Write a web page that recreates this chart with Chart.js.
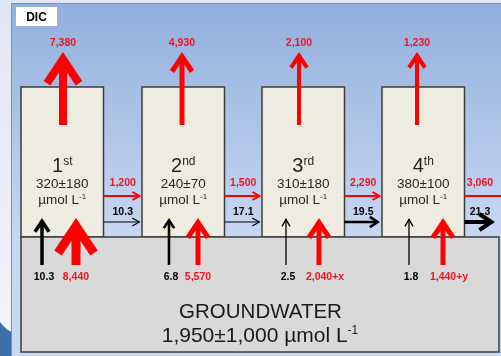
<!DOCTYPE html>
<html>
<head>
<meta charset="utf-8">
<script src="https://cdn.jsdelivr.net/npm/chart.js@4"></script>
<style>
  html, body { margin: 0; padding: 0; background: #fff; }
  canvas { display: block; }
</style>
</head>
<body>
<canvas id="dic-flux" width="501" height="356"></canvas>
<script>
// values
const cells = ['1', '2', '3', '4'];
const cellSuffix = ['st', 'nd', 'rd', 'th'];
const cellConc = ['320±180', '240±70', '310±180', '380±100'];
const outgassing = [7380, 4930, 2100, 1230];
const downstreamDIC = [1200, 1500, 2290, 3060];
const downstreamWater = [10.3, 17.1, 19.5, 21.3];
const gwWater = [10.3, 6.8, 2.5, 1.8];
const gwDIC = [8440, 5570, 2040, 1440];
const gwDICExtra = ['', '', '+x', '+y'];
const gwConc = '1,950±1,000';

const fmt = v => v.toLocaleString('en-US');
const RED = '#ff0000';
const RED_TXT = '#f0141e';
const FONT = '"Liberation Sans", Arial, sans-serif';

// layout (pixels == axis units)
const boxLeft = [21, 142, 262, 382];
const boxW = 82.5;
const boxTop = 87, gwTop = 237, gwBottom = 352, gwRight = 499;
const upX = [63, 182, 299, 417];
const upW = [8, 5, 4, 4];
const latRedTip = [141.5, 261.5, 381.5, 515];
const latBlackTip = [140.5, 260.5, 380, 495];
const latBlackW = [1.2, 1.2, 2.6, 4];
const gwBlackX = [42, 169, 286, 409];
const gwBlackW = [3.5, 2.6, 1.3, 1.3];
const gwRedX = [76, 198, 319, 443];
const gwRedW = [9, 5, 5, 5];

function arrow(x1, y1, x2, y2, w, color) {
  const len = Math.hypot(x2 - x1, y2 - y1);
  const dx = (x2 - x1) / len, dy = (y2 - y1) / len;
  const a = Math.max(2 * w, 4), b = Math.max(3 * w, 7);
  const miter = (w / 2) / Math.sin(Math.atan(a / b));
  const tx = x2 - dx * miter, ty = y2 - dy * miter;
  const base = { showLine: true, pointRadius: 0, borderWidth: w, borderColor: color,
    fill: false, tension: 0, borderCapStyle: 'butt', borderJoinStyle: 'miter' };
  return [
    Object.assign({ data: [{ x: x1, y: y1 }, { x: tx, y: ty }] }, base),
    Object.assign({ data: [
      { x: tx - dx * b - dy * a, y: ty - dy * b + dx * a },
      { x: tx, y: ty },
      { x: tx - dx * b + dy * a, y: ty - dy * b - dx * a }
    ] }, base)
  ];
}

const datasets = [];
cells.forEach((c, i) => {
  datasets.push(...arrow(upX[i], 125, upX[i], 52, upW[i], RED));
  datasets.push(...arrow(boxLeft[i] + boxW, 196, latRedTip[i], 196, 2, RED));
  datasets.push(...arrow(boxLeft[i] + boxW, 222, latBlackTip[i], 222, latBlackW[i], '#000'));
  datasets.push(...arrow(gwBlackX[i], 265, gwBlackX[i], 218, gwBlackW[i], '#000'));
  datasets.push(...arrow(gwRedX[i], 265, gwRedX[i], 218, gwRedW[i], RED));
});

function supText(ctx, base, sup, cx, baseline, size, supSize, rise) {
  ctx.font = size + 'px ' + FONT;
  const w1 = ctx.measureText(base).width;
  ctx.font = supSize + 'px ' + FONT;
  const w2 = ctx.measureText(sup).width;
  const left = cx - (w1 + w2) / 2;
  ctx.textAlign = 'left';
  ctx.font = size + 'px ' + FONT;
  ctx.fillText(base, left, baseline);
  ctx.font = supSize + 'px ' + FONT;
  ctx.fillText(sup, left + w1, baseline - rise);
}

function label(ctx, text, cx, baseline, color, size) {
  ctx.font = 'bold ' + size + 'px ' + FONT;
  ctx.textAlign = 'center';
  ctx.fillStyle = color;
  ctx.fillText(text, cx, baseline);
}

const diagram = {
  id: 'diagram',
  beforeDraw(chart) {
    const { ctx, scales: { x, y } } = chart;
    const px = v => x.getPixelForValue(v), py = v => y.getPixelForValue(v);
    ctx.save();
    // slide background
    let g = ctx.createLinearGradient(0, 0, 0, 356);
    g.addColorStop(0, '#dfe7f4');
    g.addColorStop(1, '#f2f5fb');
    ctx.fillStyle = g;
    ctx.fillRect(0, 0, 501, 356);
    ctx.fillStyle = '#3d6fa8';
    ctx.beginPath();
    ctx.moveTo(0, 322);
    ctx.quadraticCurveTo(6, 330, 12, 332);
    ctx.lineTo(12, 356);
    ctx.lineTo(0, 356);
    ctx.closePath();
    ctx.fill();
    // panel
    g = ctx.createLinearGradient(0, py(3), 0, py(245));
    g.addColorStop(0, '#91afdd');
    g.addColorStop(1, '#cad9f2');
    ctx.fillStyle = g;
    ctx.fillRect(px(12), py(3), 501, 356);
    ctx.strokeStyle = '#7593c2';
    ctx.lineWidth = 1;
    ctx.beginPath();
    ctx.moveTo(px(11.5), py(356));
    ctx.lineTo(px(11.5), py(3.5));
    ctx.lineTo(px(501), py(3.5));
    ctx.stroke();
    // DIC tag
    ctx.fillStyle = '#ffffff';
    ctx.fillRect(px(16), py(7), px(57) - px(16), py(26) - py(7));
    // cells
    ctx.lineWidth = 1.5;
    ctx.strokeStyle = '#3c3c3c';
    boxLeft.forEach(l => {
      ctx.fillStyle = '#eeece1';
      ctx.fillRect(px(l), py(boxTop), boxW, gwTop - boxTop);
      ctx.strokeRect(px(l), py(boxTop), boxW, gwTop - boxTop);
    });
    // groundwater
    ctx.fillStyle = '#d9d9d9';
    ctx.fillRect(px(boxLeft[0]), py(gwTop), gwRight - boxLeft[0], gwBottom - gwTop);
    ctx.strokeRect(px(boxLeft[0]), py(gwTop), gwRight - boxLeft[0], gwBottom - gwTop);
    ctx.restore();
  },
  afterDraw(chart) {
    const { ctx, scales: { x, y } } = chart;
    const px = v => x.getPixelForValue(v), py = v => y.getPixelForValue(v);
    ctx.save();
    ctx.textBaseline = 'alphabetic';
    label(ctx, 'DIC', px(36.5), py(21), '#000', 12);
    cells.forEach((c, i) => {
      const cx = px(boxLeft[i] + boxW / 2);
      ctx.fillStyle = '#262626';
      supText(ctx, c, cellSuffix[i], cx, py(172), 20, 12, 7);
      ctx.font = '13.5px ' + FONT;
      ctx.textAlign = 'center';
      ctx.fillText(cellConc[i], cx, py(188));
      supText(ctx, 'µmol L', '-1', cx, py(204), 13.5, 8, 5);
      label(ctx, fmt(outgassing[i]), px(upX[i]), py(46), RED_TXT, 10.5);
      const lx = i < 3 ? (boxLeft[i] + boxW + boxLeft[i + 1]) / 2 : 480;
      label(ctx, fmt(downstreamDIC[i]), px(lx), py(186), RED_TXT, 10.5);
      label(ctx, String(downstreamWater[i]), px(lx), py(215), '#000', 10.5);
      label(ctx, String(gwWater[i]), px(gwBlackX[i] + 2), py(280), '#000', 10.5);
      label(ctx, fmt(gwDIC[i]) + gwDICExtra[i], px(gwRedX[i] + (gwDICExtra[i] ? 6 : 0)), py(280), RED_TXT, 10.5);
    });
    ctx.fillStyle = '#1a1a1a';
    ctx.font = '20.5px ' + FONT;
    ctx.textAlign = 'center';
    ctx.fillText('GROUNDWATER', px(260.5), py(318));
    supText(ctx, gwConc + ' µmol L', '-1', px(260), py(342), 21, 12, 8);
    ctx.restore();
  }
};

new Chart(document.getElementById('dic-flux'), {
  type: 'scatter',
  data: { datasets: datasets },
  options: {
    responsive: false,
    animation: false,
    events: [],
    layout: { padding: 0 },
    scales: {
      x: { type: 'linear', min: 0, max: 501, display: false },
      y: { type: 'linear', min: 0, max: 356, reverse: true, display: false }
    },
    plugins: { legend: { display: false }, tooltip: { enabled: false } }
  },
  plugins: [diagram]
});
</script>
</body>
</html>
